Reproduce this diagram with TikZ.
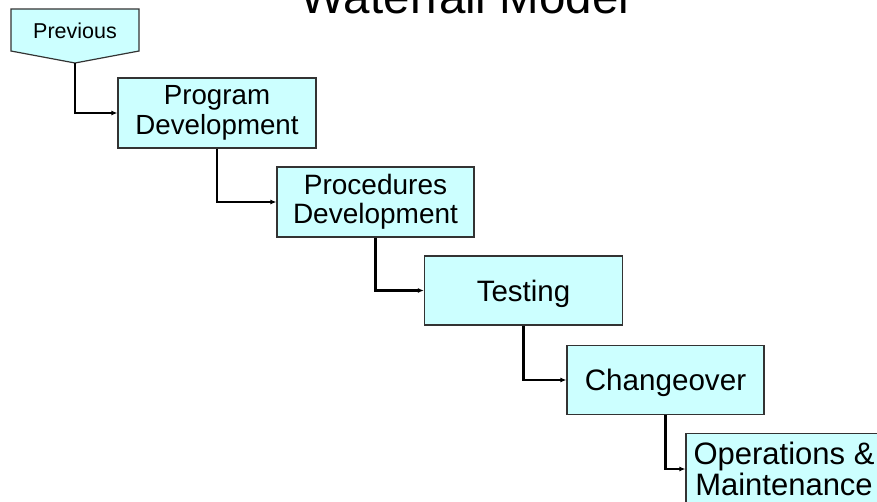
\documentclass[tikz,border=0pt]{standalone}
\usepackage{fontspec}
\setmainfont{Liberation Sans}
\usetikzlibrary{arrows.meta}
\definecolor{boxfill}{HTML}{CCFFFF}
\definecolor{boxline}{HTML}{333333}
\tikzset{
  stagebox/.style={draw=boxline, line width=1.2pt, fill=boxfill, inner sep=0pt, align=center,
    minimum width=#1, minimum height=70pt},
  oneline/.style={text height=#1, text depth=0pt},
  flowline/.style={draw=black, line width=2.2pt, -{Latex[length=6pt,width=5pt]}},
}
\begin{document}
\begin{tikzpicture}[x=1pt,y=-1pt]
\useasboundingbox (0,0) rectangle (877,501);
\clip (0,0) rectangle (877,501);
\fill[white] (0,0) rectangle (877,501);
% title
\node[anchor=base, inner sep=0pt, font=\fontsize{47.5}{50}\selectfont] (title) at (465,13) {Waterfall Model};
% Previous (off-page connector)
\draw[draw=boxline, line width=1.2pt, fill=boxfill] (11,9) -- (139,9) -- (139,51) -- (75,63) -- (11,51) -- cycle;
\node[inner sep=0pt, oneline=15.4pt, font=\fontsize{21.5}{24}\selectfont] (prev) at (75,31) {Previous};
\coordinate (prevtip) at (75,63);
% stages
\node[stagebox=198pt, font=\fontsize{27.7}{29.5}\selectfont] (prog) at (217,113) {Program\\Development};
\node[stagebox=197pt, font=\fontsize{28}{29.5}\selectfont] (proc) at (375.5,202) {Procedures\\Development};
\node[stagebox=198pt, oneline=21.1pt, minimum height=69pt, font=\fontsize{29.5}{31}\selectfont] (test) at (523.5,290.5) {Testing};
\node[stagebox=197pt, oneline=21.2pt, minimum height=69pt, font=\fontsize{29.6}{31}\selectfont] (change) at (665.5,380) {Changeover};
\node[stagebox=196pt, font=\fontsize{31}{31}\selectfont] (ops) at (784,468.5) {Operations \&\\Maintenance};
% connectors
\draw[flowline] (prevtip) |- (prog.west);
\draw[flowline] (prog.south) |- (proc.west);
\draw[flowline] (proc.south) |- (test.west);
\draw[flowline] (test.south) |- (change.west);
\draw[flowline] (change.south) |- ([yshift=-0.5pt]ops.west);
\end{tikzpicture}
\end{document}
